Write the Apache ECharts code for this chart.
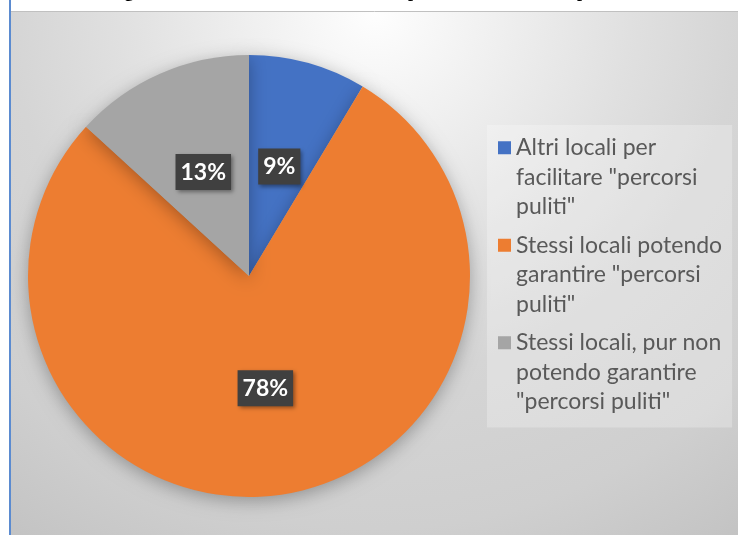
<!DOCTYPE html>
<html>
<head>
<meta charset="utf-8">
<script src="https://cdn.jsdelivr.net/npm/echarts@6/dist/echarts.min.js"></script>
<style>
  html, body { margin: 0; padding: 0; background: #fff; }
  #main { width: 738px; height: 535px; }
</style>
</head>
<body>
<div id="main"></div>
<script>
// dati del grafico
var categorie = [
  'Altri locali per\nfacilitare "percorsi\npuliti"',
  'Stessi locali potendo\ngarantire "percorsi\npuliti"',
  'Stessi locali, pur non\npotendo garantire\n"percorsi puliti"'
];
var valori = [8.6, 78.2, 13.2];
var colori = ['#4472c4', '#ed7d31', '#a5a5a5'];
var titolo = 'Scelta degli ambulatori e dei locali dedicati al personale medico e ai pazienti';

var myChart = echarts.init(document.getElementById('main'));

// icona della legenda: quadrato in alto in un riquadro alto quanto il testo
var iconaLegenda = 'path://M0,0L0,0M0,8L13,8L13,21L0,21ZM13,88L13,88';

option = {
  backgroundColor: '#ffffff',
  color: colori,
  title: {
    text: titolo,
    left: 56,
    top: -17,
    padding: 0,
    textStyle: {
      fontFamily: 'Liberation Serif',
      fontWeight: 'bold',
      fontSize: 18,
      lineHeight: 18,
      color: '#000'
    }
  },
  graphic: [
    {
      type: 'rect',
      z: -10,
      shape: { x: 11, y: 11, width: 727, height: 524 },
      style: {
        fill: {
          type: 'radial',
          x: 0.5, y: 0, r: 1.22,
          colorStops: [
            { offset: 0, color: '#fefefe' },
            { offset: 0.4, color: '#e0e0e0' },
            { offset: 0.57, color: '#d5d5d5' },
            { offset: 0.81, color: '#cfcfcf' },
            { offset: 1, color: '#c3c3c3' }
          ]
        }
      }
    },
    {
      type: 'line',
      z: -9,
      shape: { x1: 11, y1: 11.5, x2: 738, y2: 11.5 },
      style: { stroke: '#c0c0c0', lineWidth: 1 }
    },
    {
      type: 'line',
      z: -9,
      shape: { x1: 10, y1: 0, x2: 10, y2: 535 },
      style: { stroke: '#5b8bd0', lineWidth: 2 }
    }
  ],
  legend: {
    orient: 'vertical',
    left: 487,
    top: 125,
    padding: [8, 10, 11, 11],
    backgroundColor: 'rgba(255,255,255,0.25)',
    itemWidth: 13,
    itemHeight: 88,
    itemGap: 9,
    itemStyle: { borderWidth: 0 },
    icon: iconaLegenda,
    textStyle: {
      fontFamily: 'Lato',
      fontSize: 23,
      lineHeight: 29.5,
      color: '#595959'
    },
    data: categorie
  },
  series: [{
    type: 'pie',
    center: [249, 276],
    radius: 221,
    startAngle: 90,
    clockwise: true,
    avoidLabelOverlap: false,
    itemStyle: {
      shadowBlur: 18,
      shadowColor: 'rgba(0,0,0,0.3)',
      shadowOffsetY: 4
    },
    label: {
      show: true,
      position: 'inside',
      formatter: function (p) {
        return Math.round(p.percent) + '%';
      },
      color: '#ffffff',
      fontFamily: 'Lato',
      fontWeight: 'bold',
      fontSize: 23,
      backgroundColor: '#404040',
      padding: [7, 5, 6, 5],
      shadowBlur: 4,
      shadowColor: 'rgba(0,0,0,0.4)',
      shadowOffsetX: 2,
      shadowOffsetY: 2
    },
    labelLine: { show: false },
    emphasis: { disabled: true },
    data: categorie.map(function (c, i) {
      return { name: c, value: valori[i] };
    })
  }]
};

myChart.setOption(option);
</script>
</body>
</html>
